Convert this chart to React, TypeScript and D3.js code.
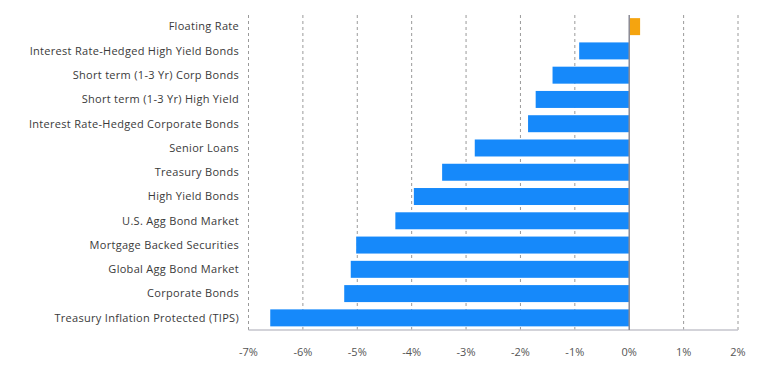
import React from "react";
import * as d3 from "d3";

const categories = [
  "Floating Rate",
  "Interest Rate-Hedged High Yield Bonds",
  "Short term (1-3 Yr) Corp Bonds",
  "Short term (1-3 Yr) High Yield",
  "Interest Rate-Hedged Corporate Bonds",
  "Senior Loans",
  "Treasury Bonds",
  "High Yield Bonds",
  "U.S. Agg Bond Market",
  "Mortgage Backed Securities",
  "Global Agg Bond Market",
  "Corporate Bonds",
  "Treasury Inflation Protected (TIPS)",
];
const values = [0.2, -0.92, -1.41, -1.72, -1.86, -2.84, -3.44, -3.96, -4.3, -5.02, -5.12, -5.24, -6.6];
const tickValues = [-7, -6, -5, -4, -3, -2, -1, 0, 1, 2];

const W = 769;
const H = 366;

export default function App() {
  const x = d3.scaleLinear().domain([-7, 2]).range([248.5, 738]);
  const y = d3.scaleBand<string>().domain(categories).range([14.5, 330]).paddingInner(0.3).paddingOuter(0.15);
  const top = 15;
  const bottom = 330;
  const font = "'Open Sans', sans-serif";
  return (
    <svg width={W} height={H} style={{ position: "absolute", left: 0, top: 0, background: "#fff" }}>
      {tickValues.map((t) =>
        t === 0 ? null : (
          <line key={"g" + t} x1={x(t)} x2={x(t)} y1={top} y2={bottom} stroke="#9a9a9a" strokeWidth={1} strokeDasharray="3,3" />
        )
      )}
      {categories.map((c, i) => {
        const v = values[i];
        const x0 = x(Math.min(0, v));
        const x1 = x(Math.max(0, v));
        return (
          <rect key={c} x={x0} y={y(c)} width={x1 - x0} height={y.bandwidth()} fill={v >= 0 ? "#F5A40F" : "#1689FA"} />
        );
      })}
      <line x1={x(-7)} x2={x(2)} y1={bottom} y2={bottom} stroke="#c4c4cc" strokeWidth={1.5} />
      <line x1={x(0)} x2={x(0)} y1={top} y2={bottom} stroke="#8a8a95" strokeWidth={1.5} />
      {categories.map((c) => (
        <text
          key={"l" + c}
          x={239}
          y={(y(c) as number) + y.bandwidth() / 2}
          dy="0.35em"
          textAnchor="end"
          fontFamily={font}
          fontSize={11}
          letterSpacing={0.3}
          fill="#3a3a3a"
        >
          {c}
        </text>
      ))}
      {tickValues.map((t) => (
        <text key={"t" + t} x={x(t)} y={352} dy="0.35em" textAnchor="middle" fontFamily={font} fontSize={11} fill="#555">
          {t + "%"}
        </text>
      ))}
    </svg>
  );
}
